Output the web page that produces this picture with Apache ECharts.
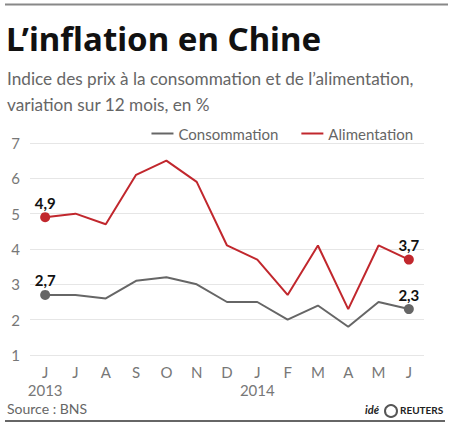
<!DOCTYPE html>
<html>
<head>
<meta charset="utf-8">
<script src="https://cdn.jsdelivr.net/npm/echarts@6/dist/echarts.min.js"></script>
<style>
html,body{margin:0;padding:0;background:#fff;}
#chart{width:450px;height:428px;}
</style>
</head>
<body>
<div id="chart"></div>
<script>
var categories = ['J','J','A','S','O','N','D','J','F','M','A','M','J'];
var yearLabels = {0:'2013', 7:'2014'};
var consommation = [2.7,2.7,2.6,3.1,3.2,3.0,2.5,2.5,2.0,2.4,1.8,2.5,2.3];
var alimentation = [4.9,5.0,4.7,6.1,6.5,5.9,4.1,3.7,2.7,4.1,2.3,4.1,3.7];
var yTicks = [1,2,3,4,5,6,7];

var FONT = 'Lato';
var chart = echarts.init(document.getElementById('chart'), null, {renderer:'svg'});
var last = categories.length - 1;
function endSize(v, p){ return (p.dataIndex === 0 || p.dataIndex === last) ? 10 : 0; }
function endLabel(p){ return (p.dataIndex === 0 || p.dataIndex === last) ? String(p.value).replace('.', ',') : ''; }

chart.setOption({
  animation:false,
  textStyle:{fontFamily:FONT},
  grid:{left:30,right:26,top:143,bottom:73},
  legend:{
    right:32, top:121, itemWidth:22, itemHeight:2, itemGap:23,
    icon:'rect',
    textStyle:{fontFamily:FONT,fontSize:15,color:'#666'},
    data:['Consommation','Alimentation']
  },
  xAxis:{
    type:'category', data:categories, boundaryGap:true,
    axisLine:{show:false}, axisTick:{show:false},
    axisLabel:{
      interval:0,
      color:'#777', fontSize:15, fontFamily:FONT, margin:8, lineHeight:18,
      formatter:function(v,i){ return yearLabels[i] ? v + '\n' + yearLabels[i] : v; }
    }
  },
  yAxis:{
    type:'value', min:yTicks[0], max:yTicks[yTicks.length-1], interval:1,
    axisLine:{show:false}, axisTick:{show:false},
    axisLabel:{color:'#777', fontSize:15, fontFamily:FONT, margin:10},
    splitLine:{lineStyle:{color:'#e6e6e6', width:1}}
  },
  series:[
    {
      name:'Consommation', type:'line', data:consommation,
      symbol:'circle', symbolSize:endSize, showAllSymbol:true,
      lineStyle:{color:'#666666', width:2},
      itemStyle:{color:'#666666'},
      label:{show:true, position:'top', distance:2, formatter:endLabel,
             color:'#111', fontWeight:'bold', fontSize:15, fontFamily:FONT}
    },
    {
      name:'Alimentation', type:'line', data:alimentation,
      symbol:'circle', symbolSize:endSize, showAllSymbol:true,
      lineStyle:{color:'#c1272d', width:2},
      itemStyle:{color:'#c1272d'},
      label:{show:true, position:'top', distance:2, formatter:endLabel,
             color:'#111', fontWeight:'bold', fontSize:15, fontFamily:FONT}
    }
  ],
  graphic:[
    {type:'line', shape:{x1:5,y1:4.5,x2:448,y2:4.5}, style:{stroke:'#888',lineWidth:2}},
    {type:'text', left:6, top:22, style:{text:'L\u2019inflation en Chine', fontFamily:'Noto Sans', fontWeight:'bold', fontSize:33, fill:'#111'}},
    {type:'text', left:7, top:65, style:{text:'Indice des prix \u00e0 la consommation et de l\u2019alimentation,\nvariation sur 12 mois, en %', fontFamily:FONT, fontSize:17.2, lineHeight:26, fill:'#666'}},
    {type:'text', left:7, top:401, style:{text:'Source : BNS', fontFamily:FONT, fontSize:14, fill:'#666'}},
    {type:'text', left:365, top:404, style:{text:'id\u00e9', fontFamily:FONT, fontStyle:'italic', fontWeight:'bold', fontSize:11, fill:'#222'}},
    {type:'circle', shape:{cx:391,cy:411,r:6}, style:{fill:'#fff',stroke:'#555',lineWidth:2}},
    {type:'text', left:400, top:405, style:{text:'REUTERS', fontFamily:FONT, fontWeight:'bold', fontSize:10, fill:'#222'}},
    {type:'line', shape:{x1:5,y1:421,x2:445,y2:421}, style:{stroke:'#333',lineWidth:1.5}}
  ]
});
</script>
</body>
</html>
